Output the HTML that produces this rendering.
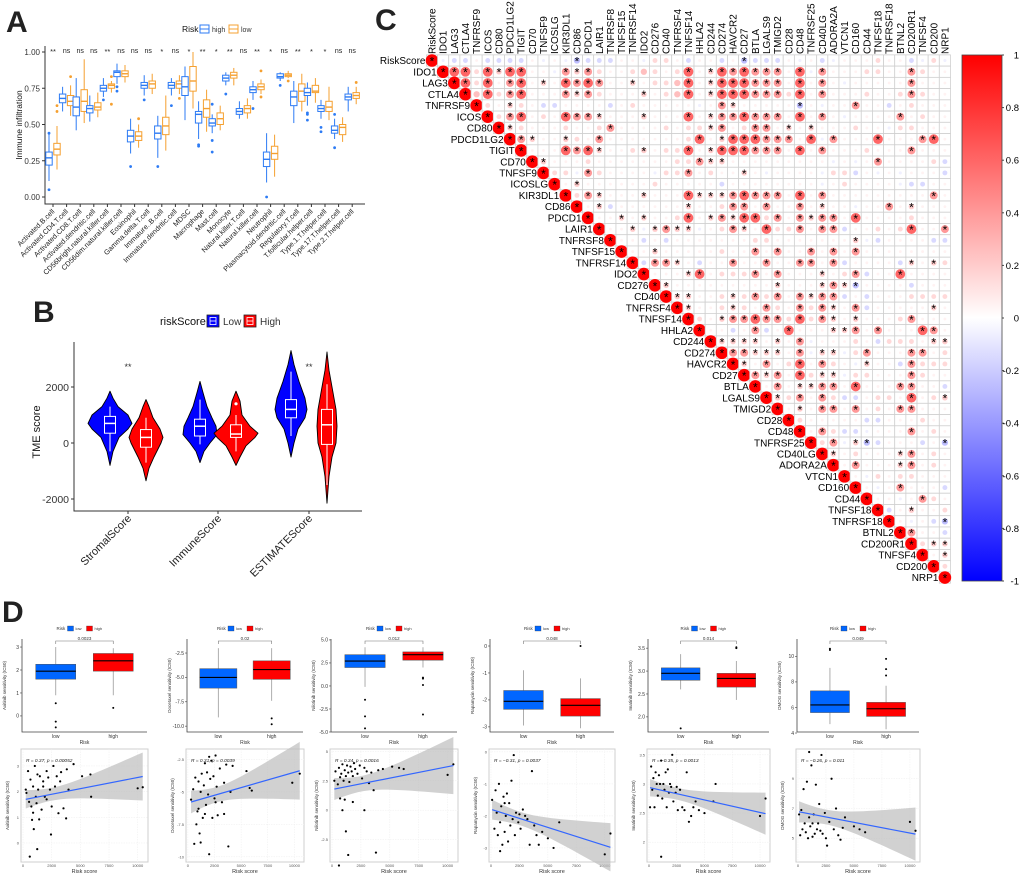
<!DOCTYPE html>
<html><head><meta charset="utf-8"><style>
html,body{margin:0;padding:0;background:#fff;}
svg{display:block;font-family:"Liberation Sans",Arial,sans-serif;}
</style></head><body>
<svg id="fig" width="1020" height="877" viewBox="0 0 1020 877" xmlns="http://www.w3.org/2000/svg">
<defs>
<linearGradient id="cbar" x1="0" y1="0" x2="0" y2="1">
<stop offset="0" stop-color="#ff0000"/><stop offset="0.5" stop-color="#ffffff"/><stop offset="1" stop-color="#0000ff"/>
</linearGradient>
</defs>
<text x="6" y="32" font-size="30" font-weight="bold" fill="#222">A</text>
<text x="33" y="322" font-size="30" font-weight="bold" fill="#222">B</text>
<text x="375" y="30" font-size="30" font-weight="bold" fill="#222">C</text>
<text x="2" y="622" font-size="30" font-weight="bold" fill="#222">D</text>
</svg>
<script>
const NS='http://www.w3.org/2000/svg';
const svg=document.getElementById('fig');
function mk(tag,attrs,parent){const e=document.createElementNS(NS,tag);for(const k in attrs)e.setAttribute(k,attrs[k]);(parent||svg).appendChild(e);return e;}
function txt(x,y,s,attrs,parent){const e=mk('text',Object.assign({x:x,y:y},attrs||{}),parent);e.textContent=s;return e;}

/* ================= PANEL A data ================= */
const aCats=['Activated.B.cell','Activated.CD4.T.cell','Activated.CD8.T.cell','Activated.dendritic.cell','CD56bright.natural.killer.cell','CD56dim.natural.killer.cell','Eosinophil','Gamma.delta.T.cell','Immature..B.cell','Immature.dendritic.cell','MDSC','Macrophage','Mast.cell','Monocyte','Natural.killer.T.cell','Natural.killer.cell','Neutrophil','Plasmacytoid.dendritic.cell','Regulatory.T.cell','T.follicular.helper.cell','Type.1.T.helper.cell','Type.17.T.helper.cell','Type.2.T.helper.cell'];
const aSig=['**','ns','ns','ns','**','ns','ns','ns','*','ns','*','**','*','**','ns','**','*','ns','**','*','*','ns','ns'];
const aHighQ1=[.22,.65,.56,.58,.73,.83,.38,.75,.40,.75,.70,.51,.49,.80,.57,.72,.21,.82,.63,.70,.59,.44,.67];
const aHighMed=[.27,.68,.62,.61,.75,.86,.42,.77,.44,.77,.76,.57,.51,.82,.59,.74,.26,.83,.69,.72,.61,.46,.69];
const aHighQ3=[.31,.71,.69,.63,.77,.87,.46,.79,.49,.79,.83,.59,.54,.84,.61,.76,.31,.85,.73,.75,.63,.49,.71];
const aHighLo=[.11,.59,.46,.52,.69,.78,.30,.70,.27,.70,.53,.40,.44,.77,.54,.67,.10,.80,.51,.63,.54,.40,.59];
const aHighHi=[.44,.76,.82,.70,.82,.92,.54,.84,.56,.82,.90,.66,.57,.86,.66,.80,.44,.86,.80,.79,.67,.54,.76];
const aLowQ1=[.29,.63,.59,.60,.75,.83,.39,.75,.43,.75,.73,.55,.50,.82,.58,.74,.26,.83,.66,.72,.59,.43,.68];
const aLowMed=[.33,.66,.66,.62,.77,.85,.42,.78,.49,.78,.80,.61,.54,.84,.61,.76,.30,.84,.73,.73,.62,.48,.70];
const aLowQ3=[.37,.70,.74,.65,.78,.87,.45,.80,.55,.80,.90,.67,.58,.86,.63,.78,.35,.85,.78,.77,.66,.50,.72];
const aLowLo=[.19,.56,.51,.55,.72,.79,.34,.71,.32,.71,.61,.45,.46,.77,.54,.71,.14,.82,.59,.65,.53,.38,.64];
const aLowHi=[.49,.77,.95,.72,.80,.91,.50,.85,.70,.84,1.0,.74,.63,.89,.68,.81,.43,.87,.85,.82,.76,.55,.76];
const aHighOut=[[.44,.05],[],[],[],[.67],[.76,.73],[.21],[.67],[.21],[.63],[],[.35,.36],[.64,.39,.31],[.71],[],[.61],[0],[.77],[],[.58,.57,.53],[.48,.45],[.57,.34],[]];
const aLowOut=[[.59,.63],[.83],[],[],[.64,.83],[],[.54],[],[],[.68],[],[],[],[],[],[.87,.69],[],[.80],[],[],[],[],[.79]];
const aYTicks=[0,0.25,0.5,0.75,1.0];
const aYTickLabels=['0.00','0.25','0.50','0.75','1.00'];

function yA(v){return 197-145*v;}
function xA(i){return 53+13.6*i;}
(function(){
  const g=mk('g',{});
  
  
  const ax=mk('path',{d:'M45,46 V204 H365',stroke:'#333','stroke-width':1,fill:'none'},g);
  
  
  aYTicks.forEach((t,i)=>{
    mk('line',{x1:42,x2:45,y1:yA(t),y2:yA(t),stroke:'#333'},g);
    const l=txt(40,yA(t)+3,aYTickLabels[i],{'font-size':8,'text-anchor':'end',fill:'#333'},g);
    
    
  });
  const yt=txt(0,0,'Immune infiltration',{'font-size':8.5,'text-anchor':'middle',transform:'translate(22,125) rotate(-90)',fill:'#111'},g);
  
  
  const lg=mk('g',{},g);
  
  
  txt(182,32,'Risk',{'font-size':8.5,fill:'#111'},lg);
  [['high','#2d7bf4',200],['low','#f5a030',229]].forEach(d=>{
    mk('rect',{x:d[2],y:25,width:9,height:8,fill:'#fff',stroke:d[1],'stroke-width':1},lg);
    mk('line',{x1:d[2],x2:d[2]+9,y1:29,y2:29,stroke:d[1]},lg);
    const t=txt(d[2]+12,32,d[0],{'font-size':7,fill:'#333'},lg);
    
    
  });
  function box(cx,q1,md,q3,lo,hi,outs,col,name){
    const b=mk('g',{},g);
    
    
    mk('line',{x1:cx,x2:cx,y1:yA(lo),y2:yA(q1),stroke:col,'stroke-width':1},b);
    mk('line',{x1:cx,x2:cx,y1:yA(q3),y2:yA(hi),stroke:col,'stroke-width':1},b);
    mk('rect',{x:cx-3.2,y:yA(q3),width:6.4,height:Math.max(0.5,yA(q1)-yA(q3)),fill:'#fff',stroke:col,'stroke-width':1},b);
    mk('line',{x1:cx-3.2,x2:cx+3.2,y1:yA(md),y2:yA(md),stroke:col,'stroke-width':1.4},b);
    outs.forEach(o=>mk('circle',{cx:cx,cy:yA(o),r:1.4,fill:col},b));
  }
  aCats.forEach((c,i)=>{
    const cx=xA(i);
    box(cx-4,aHighQ1[i],aHighMed[i],aHighQ3[i],aHighLo[i],aHighHi[i],aHighOut[i],'#2d7bf4','box-high-'+i);
    box(cx+4,aLowQ1[i],aLowMed[i],aLowQ3[i],aLowLo[i],aLowHi[i],aLowOut[i],'#f5a030','box-low-'+i);
    const s=txt(cx,aSig[i]=='ns'?53:54,aSig[i],{'font-size':aSig[i]=='ns'?7:7.5,'text-anchor':'middle',fill:'#222'},g);
    
    
    mk('line',{x1:cx,x2:cx,y1:204,y2:207,stroke:'#333'},g);
    const xl=txt(0,0,c,{'font-size':7.2,'text-anchor':'end',fill:'#222',transform:'translate('+(cx+2)+',212) rotate(-45)'},g);
    
    
  });
})();

/* ================= PANEL B data ================= */
const bCats=['StromalScore','ImmuneScore','ESTIMATEScore'];
const bSig=['**','','**'];
const bLowQ1=[350,250,900], bLowMed=[700,600,1200], bLowQ3=[950,850,1550], bLowLo=[-300,-50,250], bLowHi=[1300,1550,2550];
const bHighQ1=[-150,200,-50], bHighMed=[200,320,650], bHighQ3=[480,650,1200], bHighLo=[-700,-300,-1500], bHighHi=[900,1000,2100];
const bLowProfY=[[-800,-300,200,500,700,1000,1300,1600,1850],[-700,-300,0,300,600,900,1300,1800,2200],[-500,0,500,900,1200,1600,2200,2800,3300]];
const bLowProfW=[[0,3,9,18,22,18,8,3,0],[0,4,10,17,16,12,7,3,0],[0,3,7,14,16,14,8,3,0]];
const bHighProfY=[[-1350,-900,-500,0,200,500,900,1300,1550],[-800,-500,-100,200,350,600,1000,1500,1850],[-2150,-1200,-500,0,600,1200,1800,2600,3250]];
const bHighProfW=[[0,3,8,15,17,14,7,3,0],[0,4,10,19,22,14,6,4,0],[0,2,5,9,10,9,6,2,0]];
const bYTicks=[-2000,0,2000];
function yB(v){return 443-v*0.028;}
const bX=[128,218,309];
(function(){
  const g=mk('g',{});
  
  
  const ax=mk('path',{d:'M74,342 V511 H362',stroke:'#333','stroke-width':1,fill:'none'},g);
  
  
  bYTicks.forEach(t=>{
    mk('line',{x1:71,x2:74,y1:yB(t),y2:yB(t),stroke:'#333'},g);
    const l=txt(69,yB(t)+4,String(t),{'font-size':10.5,'text-anchor':'end',fill:'#333'},g);
    
    
  });
  const yt=txt(0,0,'TME score',{'font-size':11,'text-anchor':'middle',transform:'translate(40,432) rotate(-90)',fill:'#111'},g);
  
  
  const lg=mk('g',{},g);
  
  
  txt(160,325,'riskScore',{'font-size':11,fill:'#111'},lg);
  [['Low','#0000ff',207],['High','#ff0000',244]].forEach(d=>{
    mk('rect',{x:d[2],y:315,width:12,height:12,fill:d[1],stroke:'#222','stroke-width':0.8},lg);
    mk('rect',{x:d[2]+3,y:317.5,width:6,height:7,fill:'none',stroke:'#fff','stroke-width':0.8},lg);
    mk('line',{x1:d[2]+3,x2:d[2]+9,y1:321,y2:321,stroke:'#fff','stroke-width':0.8},lg);
    const t=txt(d[2]+16,325,d[0],{'font-size':10,fill:'#333'},lg);
    
    
  });
  function violin(cx,py,pw,q1,md,q3,lo,hi,col,name){
    const v=mk('g',{},g);
    
    
    let d='M'+cx+','+yB(py[0]);
    for(let i=1;i<py.length;i++)d+=' L'+(cx+pw[i])+','+yB(py[i]);
    for(let i=py.length-2;i>=0;i--)d+=' L'+(cx-pw[i])+','+yB(py[i]);
    mk('path',{d:d+'Z',fill:col,stroke:'#000','stroke-width':0.9,'stroke-linejoin':'round'},v);
    mk('line',{x1:cx,x2:cx,y1:yB(lo),y2:yB(hi),stroke:'#fff','stroke-width':1},v);
    mk('rect',{x:cx-5.5,y:yB(q3),width:11,height:yB(q1)-yB(q3),fill:col,stroke:'#fff','stroke-width':1},v);
    mk('line',{x1:cx-5.5,x2:cx+5.5,y1:yB(md),y2:yB(md),stroke:'#fff','stroke-width':1.5},v);
  }
  bCats.forEach((c,i)=>{
    violin(bX[i]-18,bLowProfY[i],bLowProfW[i],bLowQ1[i],bLowMed[i],bLowQ3[i],bLowLo[i],bLowHi[i],'#0000ff','violin-low-'+i);
    violin(bX[i]+18,bHighProfY[i],bHighProfW[i],bHighQ1[i],bHighMed[i],bHighQ3[i],bHighLo[i],bHighHi[i],'#ff0000','violin-high-'+i);
    if(bSig[i]){const s=txt(bX[i],370,bSig[i],{'font-size':9,'text-anchor':'middle',fill:'#333'},g);
    
    }
    mk('line',{x1:bX[i],x2:bX[i],y1:511,y2:514,stroke:'#333'},g);
    const xl=txt(0,0,c,{'font-size':11,'text-anchor':'end',fill:'#222',transform:'translate('+(bX[i]+4)+',519) rotate(-45)'},g);
    
    
  });
  mk('circle',{cx:236,cy:yB(1400),r:1.6,fill:'#fff'},g);
})();

/* ================= PANEL C data ================= */
const cGenes=['RiskScore','IDO1','LAG3','CTLA4','TNFRSF9','ICOS','CD80','PDCD1LG2','TIGIT','CD70','TNFSF9','ICOSLG','KIR3DL1','CD86','PDCD1','LAIR1','TNFRSF8','TNFSF15','TNFRSF14','IDO2','CD276','CD40','TNFRSF4','TNFSF14','HHLA2','CD244','CD274','HAVCR2','CD27','BTLA','LGALS9','TMIGD2','CD28','CD48','TNFRSF25','CD40LG','ADORA2A','VTCN1','CD160','CD44','TNFSF18','TNFRSF18','BTNL2','CD200R1','TNFSF4','CD200','NRP1'];
const cRows=[
'D,bb.bbbb.,.,xbbb..,pp.b..b.xbbb.,.b,...p..b,p,',
'DLLpLsLL..,SsSp..pqp.pL.sLSLSSS.L,S...pp..Sp..',
'DLpL.SL.s.LSLS..s.ppqL.sLLLSSS.L.S.,.....S...',
'DqLpSL...SsSp...s.pqL.sLLLSSSpL.S...p..pSp..',
'Dp.sp.bb....b.p.....,.Ss.....x.,..S..b.p..',
'DpSL.p.LSSs...s...L.sSSLSSS.L.S.,....S.p.',
'Dsp...p..pS....p.ppsS.pSS.s.s...p..,pp...',
'DSs..sp.S.......pL.sLLLSSS.L,S...L...SL..',
'D...LSLs..ps.ppL.sLLLSSS.L.S...p...S...',
'Ds...p.......ppSss.........,.,.S....pb.',
'Dpp,Sp....,ppS.p..s.,....,ppb.,.,...b.',
'D.s......p.....b........,.p....,bb',
'DpSs...s...LsssSLSSS.L.S.........S...',
'D.sb......s..pSS.S..S.s..,..S.s...',
'D..s.s..pL.sSsLLpS.SsSS.L....p...',
'D..s,sSss,.pSs.LppS.SSb..p.pL..S',
'D..b.b.......pp.......s,b....bb',
'D..s.....p..S.S..S.S.S.......',
'DbSSs.b..S..S..SS.Sb....bs.sp',
'D...sL.pppS.S...s.pSb..L....',
'Ds.........s...sSsx....b....',
'Dss..pspSpS.SsSSb.b...pppp',
'Ds..psp.Sp.SpSs.Sb.....s.pb',
'Dp.sSSLSSpLpSs.s...pS...',
'D..b.Sb.L...ssS.S...LS..b',
'Dssss.s.S,...p.bppp.ss',
'DSSsss.S,ss,pS...SS.p',
'Ds.S.pL.Sp.,s..bSppp',
'DSsS.Lpss,pp...Sp..',
'D.S.ssSS.L...SS..b',
'DspS.Spbb.pp.L.ps',
'D.s.SS.S.p.SS...',
'Dp.....bb...p...',
'D.Spbb,...S.p.',
'DpS,sxb...b.x',
'Ds.p...sS.p.',
'D.S...sS.p.',
'D.,p.pp...',
'D.,.S...b',
'D..,.Sp.',
'Db.s..p',
'D.,.bx',
'DS..b',
'Dpss',
'D.s',
'Dp',
'D'
];
const cCodes=['D','L','S','s','q','p','.',',','b','x'];
const cCodeVals=[1,0.6,0.4,0.2,0.25,0.15,0.05,-0.06,-0.15,-0.25];
const cCodeStar=[1,1,1,1,0,0,0,0,0,1];
const cBarTicks=[1,0.8,0.6,0.4,0.2,0,-0.2,-0.4,-0.6,-0.8,-1];

const cX0=432,cY0=60.5,cDX=11.15,cDY=11.24;
function cx(c){return cX0+c*cDX;}
function cy(r){return cY0+r*cDY;}
function colR(v){
  const a=Math.min(1,Math.abs(v));
  const k=Math.round(255*(1-a));
  return v>=0?'rgb(255,'+k+','+k+')':'rgb('+k+','+k+',255)';
}
function yBar(v){return 55+(1-v)/2*526;}
(function(){
  const g=mk('g',{});
  
  
  const n=cGenes.length;
  cGenes.forEach((name,r)=>{
    const cl=txt(0,0,name,{'font-size':10,fill:'#000',transform:'translate('+(cx(r)+3.5)+',54) rotate(-90)'},g);
    
    
    const rl=txt(cx(r)-6.5,cy(r)+3.6,name,{'font-size':10,'text-anchor':'end',fill:'#000'},g);
    
    
  });
  for(let r=0;r<n;r++){
    const s=cRows[r]||'D';
    for(let c=r;c<n;c++){
      const ch=s.charAt(c-r)||'.';
      let idx=cCodes.indexOf(ch); if(idx<0) idx=6;
      const v=cCodeVals[idx];
      const x=cx(c),y=cy(r);
      const cell=mk('rect',{x:x-cDX/2,y:y-cDY/2,width:cDX,height:cDY,fill:'#fff',stroke:'#d0d0d0','stroke-width':0.8},g);
      
      
      const rad=Math.sqrt(Math.abs(v))*6.3;
      const circ=mk('circle',{cx:x,cy:y,r:rad,fill:colR(v)},g);
      
      
      if(cCodeStar[idx]){
        const st=txt(x,y+5,'*',{'font-size':12,'text-anchor':'middle',fill:'#000'},g);
        
        
      }
    }
  }
  const bar=mk('rect',{x:962,y:55,width:40,height:526,fill:'url(#cbar)',stroke:'#444','stroke-width':0.8},g);
  
  
  cBarTicks.forEach(t=>{
    mk('line',{x1:1002,x2:1004,y1:yBar(t),y2:yBar(t),stroke:'#444'},g);
    const l=txt(1019,yBar(t)+3.5,String(t),{'font-size':9.5,fill:'#000','text-anchor':'end'},g);
    
    
  });
})();

/* ================= PANEL D data ================= */
const dDrugs=['Axitinib','Docetaxel','Nilotinib','Rapamycin','Imatinib','DMOG'];
const dP=['0.0023','0.02','0.012','0.048','0.014','0.049'];
const dLowQ1=[1.6,-6.1,2.0,-2.35,2.8,5.6], dLowMed=[1.95,-5.0,2.7,-2.05,2.95,6.2], dLowQ3=[2.25,-4.1,3.4,-1.65,3.07,7.3], dLowLo=[0.9,-9.1,-0.1,-2.95,2.6,4.7], dLowHi=[3.0,-2.0,4.2,-0.9,3.37,9.1];
const dHighQ1=[1.95,-5.2,2.8,-2.6,2.65,5.3], dHighMed=[2.4,-4.2,3.4,-2.2,2.84,5.9], dHighQ3=[2.72,-3.3,3.7,-1.95,2.95,6.4], dHighLo=[0.9,-7.4,2.0,-3.05,2.37,4.3], dHighHi=[2.95,-2.0,4.2,-1.2,3.22,7.7];
const dLowOut=[[0.55,-0.25,-0.5],[],[-1.5,-3.3,-4.6],[],[1.75],[10.6,10.5]];
const dHighOut=[[0.35],[-9.2,-9.8],[0.9,0.8,0.1,-3.1],[0.0],[3.5,3.52],[8.5,9.0,9.8]];
const dBoxTicks=[[0,1,2,3],[-10,-7.5,-5,-2.5],[-5,-2.5,0,2.5,5],[-3,-2,-1,0],[2,2.5,3,3.5],[4,6,8,10]];
const dBoxTickLabels=[['0','1','2','3'],['-10.0','-7.5','-5.0','-2.5'],['-5.0','-2.5','0.0','2.5','5.0'],['-3','-2','-1','0'],['2.0','2.5','3.0','3.5'],['4','6','8','10']];
const dBoxDom=[[-0.7,3.35],[-10.6,-1.06],[-5.0,5.1],[-3.19,0.26],[1.67,3.7],[4.08,11.36]];
const dScatTicks=[[0,1,2,3],[-10,-7.5,-5,-2.5],[-2.5,0,2.5,5],[-3,-2,-1,0],[2,2.5,3,3.5],[5,7,9]];
const dScatDom=[[-0.74,3.66],[-10.4,-1.7],[-4.4,5.2],[-3.44,0.09],[1.66,3.6],[3.4,11.0]];
const dR=['R = 0.37, p = 0.00052','R = 0.31, p = 0.0039','R = 0.34, p = 0.0016','R = \u22120.31, p = 0.0037','R = \u22120.35, p = 0.0013','R = \u22120.26, p = 0.011'];
const dXTicks=[0,2500,5000,7500,10000];
const dScatX=[
[300,440,650,880,1030,1180,1320,1470,1620,1760,1900,2060,2350,2500,2650,2790,2940,3090,3240,3530,3820,3970,4410,5150,5880,5940,10000,10440,590,1240,940,2440,790,1410,3760,730,880,1120,2060,530,240,1760,2200,3320,1260],
[300,500,700,900,1000,1100,1200,1300,1400,1500,1600,1700,1800,1900,2000,2100,2200,2300,2400,2500,2600,2700,2800,3000,3200,3400,3600,3800,4000,4200,5500,5800,6000,9800,10500,800,1200,1600,2600,3400,600,1000,2000],
[200,300,500,600,700,800,900,1000,1100,1200,1300,1400,1500,1600,1700,1800,1900,2000,2200,2400,2600,2800,3000,3200,3400,3600,3800,4000,4400,5200,5800,6200,10000,10500,700,900,1200,1400,1800,2800,1100,600],
[100,300,400,500,600,700,800,900,1000,1100,1200,1300,1400,1500,1600,1700,1800,1900,2000,2100,2200,2400,2600,2800,3000,3200,3400,3600,3800,4000,4200,4500,5000,5500,6000,10000,10500,800,1200,2500],
[100,200,300,400,500,600,700,800,900,1000,1100,1200,1300,1400,1500,1600,1700,1800,1900,2000,2100,2200,2400,2600,2800,3000,3200,3400,3600,3800,4000,4200,4500,5000,5800,6000,10000,10500,1100,2500],
[100,200,300,400,500,600,700,800,900,1000,1100,1200,1300,1400,1500,1600,1700,1800,1900,2000,2100,2200,2400,2600,2800,3000,3200,3400,3600,3800,4000,4200,5000,5500,6000,10000,10500,1000,1300,2500]
];
const dScatY=[
[1.95,2.8,2.47,2.2,3.0,1.55,2.08,2.6,1.3,2.4,1.8,2.8,2.08,1.42,3.0,2.2,2.6,1.16,2.4,1.35,2.87,2.08,3.07,2.6,2.67,1.8,2.13,2.17,-0.53,-0.24,0.54,0.33,0.9,0.92,0.96,1.42,1.18,1.8,1.7,1.6,2.08,2.2,2.55,2.76,2.67],
[-5.6,-4.8,-3.9,-6.5,-4.2,-8.2,-5.0,-3.6,-7.0,-4.5,-2.8,-6.0,-3.5,-5.2,-9.8,-4.0,-2.6,-7.0,-3.8,-5.5,-2.2,-4.6,-6.8,-3.2,-5.8,-4.3,-2.9,-9.2,-5.0,-3.0,-3.4,-4.7,-4.9,-4.3,-3.6,-7.5,-8.9,-6.7,-5.8,-6.7,-9.0,-6.3,-2.3],
[2.5,3.3,2.2,3.6,2.8,3.1,3.9,2.5,3.4,2.9,3.8,3.2,2.4,3.7,3.3,2.9,4.0,3.5,3.1,3.8,2.7,3.6,3.3,2.3,3.2,1.7,-3.6,3.4,3.5,3.7,3.6,3.5,3.0,3.9,1.0,0.0,-1.8,-3.8,0.7,0.0,0.9,-4.7],
[-1.5,-2.4,-1.2,-1.9,-2.6,-1.0,-2.2,-1.7,-2.9,-1.4,-2.5,-2.0,-1.3,-2.8,-1.6,-2.3,-0.9,-2.1,-0.1,-2.6,-1.9,-2.2,-2.4,-1.8,-2.0,-2.1,-2.9,-0.6,-2.3,-2.6,-2.9,-2.5,-2.7,-3.0,-2.2,-3.2,-2.55,-3.1,-1.6,-1.95],
[2.6,3.3,2.9,3.1,2.6,3.2,3.0,2.8,3.15,3.0,3.4,2.75,3.0,2.9,3.2,2.6,3.25,2.85,3.0,2.95,3.5,2.7,2.85,2.55,2.9,2.6,2.55,3.2,2.35,2.45,2.6,2.7,2.55,2.5,2.7,3.0,2.45,2.75,1.75,2.95],
[6.6,5.2,6.9,5.6,8.3,6.0,5.4,8.8,5.0,6.4,5.8,9.9,5.1,6.6,5.3,8.6,5.6,6.0,7.3,5.5,10.6,5.3,6.7,4.5,6.1,9.0,5.6,7.0,5.2,4.9,5.7,6.4,5.8,5.6,5.4,6.1,5.5,10.8,6.0,5.0]
];
const dPanelL=[22,187,331,490,648,797];
const dPanelR=[147,303,457,614,769,919];
const X_DOM=[-175,10900];

(function(){
  dDrugs.forEach((drug,k)=>{
    const g=mk('g',{});
    
    
    const L=dPanelL[k],R=dPanelR[k],W=R-L;
    const bt=639,bb=732;
    const by=v=>bb-(v-dBoxDom[k][0])/(dBoxDom[k][1]-dBoxDom[k][0])*(bb-bt);
    const ax=mk('path',{d:'M'+L+','+bt+' V'+bb+' H'+R,stroke:'#444','stroke-width':0.8,fill:'none'},g);
    
    
    dBoxTicks[k].forEach((t,i)=>{
      mk('line',{x1:L-2,x2:L,y1:by(t),y2:by(t),stroke:'#444','stroke-width':0.6},g);
      txt(L-3,by(t)+1.8,dBoxTickLabels[k][i],{'font-size':5,'text-anchor':'end',fill:'#333'},g);
    });
    txt(0,0,drug+' sensitivity (IC50)',{'font-size':4.5,'text-anchor':'middle',fill:'#333',transform:'translate('+(L-16)+','+((bt+bb)/2)+') rotate(-90)'},g);
    const lx=L+W*0.27,hx=L+W*0.73,bw=W*0.32;
    const lg=mk('g',{},g);
    
    
    const mx=L+W*0.5;
    txt(mx-28,630,'Risk',{'font-size':4.5,fill:'#333'},lg);
    mk('rect',{x:mx-17,y:626,width:6,height:5,fill:'#0066ff',stroke:'#333','stroke-width':0.3},lg);
    txt(mx-9,630,'low',{'font-size':4,fill:'#333'},lg);
    mk('rect',{x:mx+2,y:626,width:6,height:5,fill:'#ff0000',stroke:'#333','stroke-width':0.3},lg);
    txt(mx+10,630,'high',{'font-size':4,fill:'#333'},lg);
    [[lx,dLowQ1,dLowMed,dLowQ3,dLowLo,dLowHi,dLowOut,'#0066ff','low'],[hx,dHighQ1,dHighMed,dHighQ3,dHighLo,dHighHi,dHighOut,'#ff0000','high']].forEach(s=>{
      const b=mk('g',{},g);
      
      
      const c=s[0];
      mk('line',{x1:c,x2:c,y1:by(s[4][k]),y2:by(s[5][k]),stroke:'#999','stroke-width':0.8},b);
      mk('rect',{x:c-bw/2,y:by(s[3][k]),width:bw,height:by(s[1][k])-by(s[3][k]),fill:s[7],stroke:'#555','stroke-width':0.5},b);
      mk('line',{x1:c-bw/2,x2:c+bw/2,y1:by(s[2][k]),y2:by(s[2][k]),stroke:'#000','stroke-width':1.1},b);
      s[6][k].forEach(o=>mk('circle',{cx:c,cy:by(o),r:1,fill:'#000'},b));
      txt(c,738,s[8],{'font-size':5,'text-anchor':'middle',fill:'#333'},g);
    });
    const br=mk('path',{d:'M'+lx+','+(bt+5)+' V'+(bt+2)+' H'+hx+' V'+(bt+5),stroke:'#777','stroke-width':0.6,fill:'none'},g);
    
    
    txt(mx,bt+1,dP[k],{'font-size':4.5,'text-anchor':'middle',fill:'#333'},g);
    txt(mx,744,'Risk',{'font-size':5,'text-anchor':'middle',fill:'#333'},g);
    const st=749,sb=862;
    const sL=L-1,sR=R+1;
    const sx=v=>sL+(v-X_DOM[0])/(X_DOM[1]-X_DOM[0])*(sR-sL);
    const sy=v=>sb-(v-dScatDom[k][0])/(dScatDom[k][1]-dScatDom[k][0])*(sb-st);
    const fr=mk('rect',{x:sL,y:st,width:sR-sL,height:sb-st,fill:'#fff',stroke:'#cfcfcf','stroke-width':1},g);
    
    
    dXTicks.forEach(t=>{
      mk('line',{x1:sx(t),x2:sx(t),y1:st,y2:sb,stroke:'#eee','stroke-width':0.5,'stroke-dasharray':'1.5,1'},g);
      txt(sx(t),867,String(t),{'font-size':4,'text-anchor':'middle',fill:'#555'},g);
    });
    dScatTicks[k].forEach(t=>{
      mk('line',{x1:sL,x2:sR,y1:sy(t),y2:sy(t),stroke:'#eee','stroke-width':0.5,'stroke-dasharray':'1.5,1'},g);
      txt(sL-2,sy(t)+1.5,String(t),{'font-size':4,'text-anchor':'end',fill:'#555'},g);
    });
    txt(0,0,drug+' sensitivity (IC50)',{'font-size':4.5,'text-anchor':'middle',fill:'#333',transform:'translate('+(sL-12)+','+((st+sb)/2)+') rotate(-90)'},g);
    txt((sL+sR)/2,873,'Risk score',{'font-size':5.5,'text-anchor':'middle',fill:'#333'},g);
    const xs=dScatX[k],ys=dScatY[k],n=Math.min(xs.length,ys.length);
    let mxv=0,myv=0;for(let i=0;i<n;i++){mxv+=xs[i];myv+=ys[i];}mxv/=n;myv/=n;
    let sxx=0,sxy=0;for(let i=0;i<n;i++){sxx+=(xs[i]-mxv)**2;sxy+=(xs[i]-mxv)*(ys[i]-myv);}
    const slope=sxy/sxx,icpt=myv-slope*mxv;
    let sse=0;for(let i=0;i<n;i++){sse+=(ys[i]-icpt-slope*xs[i])**2;}
    const se=Math.sqrt(sse/(n-2));
    let xmin=Math.min(...xs),xmax=Math.max(...xs);
    let up='',dn='';
    for(let j=0;j<=20;j++){
      const xv=xmin+(xmax-xmin)*j/20;
      const yv=icpt+slope*xv;
      const w=2*se*Math.sqrt(1/n+(xv-mxv)**2/sxx);
      up+=(j?' L':'M')+sx(xv)+','+sy(yv+w);
      dn=' L'+sx(xv)+','+sy(yv-w)+dn;
    }
    const band=mk('path',{d:up+dn+'Z',fill:'#bdbdbd','fill-opacity':0.7,stroke:'none'},g);
    
    
    for(let i=0;i<n;i++){
      const p=mk('circle',{cx:sx(xs[i]),cy:sy(ys[i]),r:1.1,fill:'#000'},g);
      
      
    }
    const rl=mk('line',{x1:sx(xmin),y1:sy(icpt+slope*xmin),x2:sx(xmax),y2:sy(icpt+slope*xmax),stroke:'#3366ff','stroke-width':1.2},g);
    
    
    txt(sL+5,st+13,dR[k],{'font-size':4.8,fill:'#222','font-style':'italic'},g);
  });
})();
</script>
</body></html>
